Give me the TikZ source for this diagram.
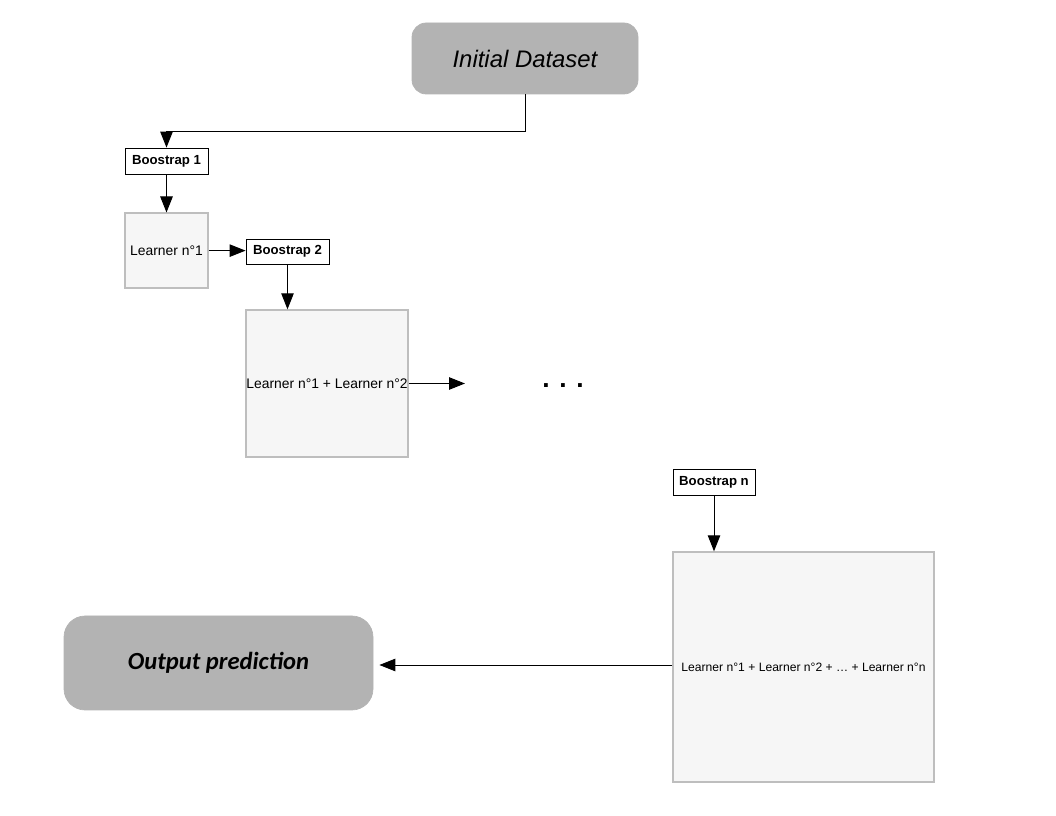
\documentclass[tikz,border=0pt]{standalone}
\usepackage{fontspec}
\setmainfont{Liberation Sans}
\newfontfamily\outfont{Carlito}
\usepackage{tikz}
\usetikzlibrary{arrows.meta, positioning, calc}
\definecolor{boxgray}{RGB}{179,179,179}
\definecolor{learnfill}{RGB}{246,246,246}
\definecolor{learnedge}{RGB}{190,190,190}
\tikzset{
  basebox/.style={rectangle,align=center,inner sep=0pt},
  endnode/.style={basebox,fill=boxgray,draw=boxgray,rounded corners=8pt},
  bootnode/.style={basebox,draw=black,line width=0.5pt,fill=white,font=\fontsize{7.5}{9}\selectfont\bfseries,minimum width=1.66cm,minimum height=0.52cm},
  learnnode/.style={basebox,draw=learnedge,line width=0.8pt,fill=learnfill,font=\fontsize{7.9}{9.5}\selectfont},
  arr/.style={-{Triangle[length=0.32cm,width=0.25cm]},line width=0.55pt,color=black}
}

\begin{document}
\begin{tikzpicture}
  \useasboundingbox (0,0) rectangle (21.12,-16.32);

  %% Start and end
  \node[endnode,minimum width=4.52cm,minimum height=1.42cm,
        font=\fontsize{13.6}{16}\selectfont\itshape] (init) at (10.50,-1.17) {Initial Dataset};
  \node[endnode,rounded corners=12pt,minimum width=6.18cm,minimum height=1.88cm,
        font=\fontsize{14}{17}\selectfont\outfont\bfseries\itshape] (outp) at (4.37,-13.26) {Output prediction};

  %% First learner
  \node[bootnode] (boot1) at (3.33,-3.22) {Boostrap 1};
  \node[learnnode,below=0.76cm of boot1,minimum width=1.66cm,minimum height=1.5cm] (learn1) {Learner n°1};

  %% Second learner
  \node[bootnode,minimum height=0.5cm] (boot2) at (5.75,-5.03) {Boostrap 2};
  \node[learnnode,minimum width=3.24cm,minimum height=2.94cm] (learn12) at (6.54,-7.67)
    {Learner n°1 + Learner n°2};
  \coordinate (nxt) at (9.30,-7.67);
  \node[font=\fontsize{15}{17}\selectfont\bfseries] (dots) at (11.26,-7.72) {. . .};

  %% Last learner
  \node[bootnode,minimum width=1.64cm] (bootn) at (14.28,-9.64) {Boostrap n};
  \node[learnnode,minimum width=5.22cm,minimum height=4.6cm,font=\fontsize{6.9}{8}\selectfont] (learnn) at (16.07,-13.34)
    {Learner n°1 + Learner n°2 + … + Learner n°n};

  %% Arrows
  \draw[arr] (init.south) -- ++(0,-0.74) -| (boot1.north);
  \draw[arr] (boot1.south) -- (learn1.north);
  \draw[arr] (learn1.east) -- (learn1.east -| boot2.west);
  \draw[arr] (boot2.south) -- (boot2.south |- learn12.north);
  \draw[arr] (learn12.east) -- (nxt);
  \draw[arr] (bootn.south) -- (bootn.south |- learnn.north);
  \draw[arr,shorten >=0.12cm] ($(learnn.west)+(0,0.04)$) -- ($(learnn.west -| outp.east)+(0,0.04)$);
\end{tikzpicture}
\end{document}
